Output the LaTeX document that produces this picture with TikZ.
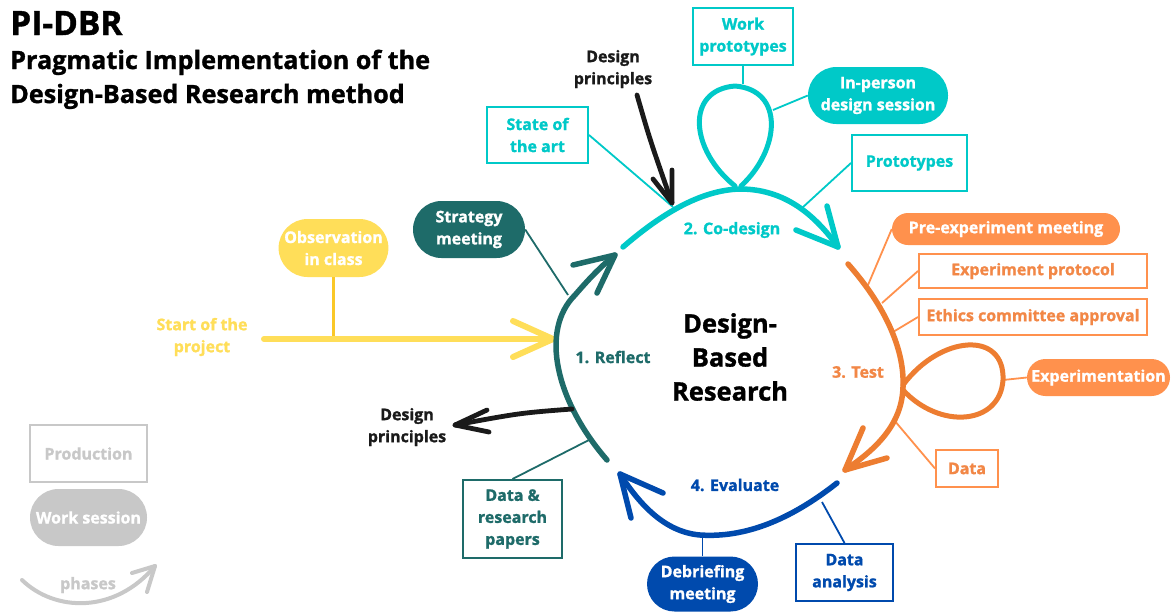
\documentclass[tikz,border=0pt]{standalone}
\usepackage{fontspec}
\setmainfont{Open Sans}[BoldFeatures={FakeBold=1.2}]
\usetikzlibrary{shapes.misc}
\definecolor{cteal}{RGB}{0,201,200}
\definecolor{cdark}{RGB}{30,107,105}
\definecolor{corange}{RGB}{237,125,49}
\definecolor{corlight}{RGB}{255,145,77}
\definecolor{cortext}{RGB}{242,135,70}
\definecolor{cblue}{RGB}{0,74,173}
\definecolor{cyellow}{RGB}{255,222,89}
\definecolor{cyellowline}{RGB}{250,200,40}
\definecolor{cgray}{RGB}{200,200,200}
\definecolor{cblack}{RGB}{26,26,26}
\tikzset{
  lab/.style={align=center, inner sep=0pt, font=\fontsize{16}{22}\selectfont\bfseries},
  tbox/.style={lab, draw, line width=2pt, fill=white},
  pill/.style={lab, rounded rectangle, text=white},
  conn/.style={line width=1.8pt},
  arcline/.style={line width=5.5pt, line cap=round, line join=round},
}
\begin{document}
\begin{tikzpicture}[x=1pt,y=-1pt]
\useasboundingbox[fill=white] (0,0) rectangle (1172,611);

% titles
\node[anchor=base west, inner sep=0pt, font=\fontsize{33.5}{40}\selectfont\bfseries] (title) at (10,35) {PI-DBR};
\node[anchor=base west, inner sep=0pt, font=\fontsize{25.2}{34}\selectfont\bfseries] (sub1) at (10,69) {Pragmatic Implementation of the};
\node[anchor=base west, inner sep=0pt, font=\fontsize{25.2}{34}\selectfont\bfseries] (sub2) at (10,103) {Design-Based Research method};

% center
\node[lab, font=\fontsize{25.5}{34}\selectfont\bfseries, text=black] (dbr) at (730,357) {Design-\\Based\\Research};

% attachment coordinates
\coordinate (wpA) at (743,84);
\coordinate (ipA) at (773,110);
\coordinate (sotaA) at (673,207);
\coordinate (protoA) at (802,208);
\coordinate (stratA) at (568,295);
\coordinate (obsA) at (333.5,339);
\coordinate (preA) at (868,285);
\coordinate (protA) at (882,303);
\coordinate (ethA) at (893,332);
\coordinate (expA) at (1003,380);
\coordinate (dataA) at (894,420);
\coordinate (debA) at (702.5,535);
\coordinate (anaA) at (822,502);
\coordinate (drpA) at (589,440);

% nodes: teal
\node[tbox, draw=cteal, text=cteal, minimum width=100pt, minimum height=57pt] (wp) at (743,36.5) {Work\\prototypes};
\node[tbox, draw=cteal, text=cteal, minimum width=101pt, minimum height=56pt] (sota) at (537.5,135) {State of\\the art};
\node[tbox, draw=cteal, text=cteal, minimum width=115pt, minimum height=56pt] (proto) at (909.5,163) {Prototypes};
\node[pill, fill=cteal, minimum width=140pt, minimum height=57pt] (ip) at (878,95.5) {In-person\\design session};
% dark teal
\node[pill, fill=cdark, minimum width=112pt, minimum height=57pt] (strat) at (469,229.5) {Strategy\\meeting};
\node[tbox, draw=cdark, text=cdark, minimum width=99pt, minimum height=78pt] (drp) at (512.5,519) {Data \&\\research\\papers};
% yellow
\node[pill, fill=cyellow, minimum width=107pt, minimum height=58pt] (obs) at (333.5,248) {Observation\\in class};
% orange
\node[pill, fill=corlight, minimum width=228pt, minimum height=32pt] (pre) at (1006,229) {Pre-experiment meeting};
\node[tbox, draw=corlight, text=cortext, minimum width=228pt, minimum height=34pt] (prot) at (1033,271) {Experiment protocol};
\node[tbox, draw=corlight, text=cortext, minimum width=228pt, minimum height=36pt] (eth) at (1033,317) {Ethics committee approval};
\node[pill, fill=corlight, minimum width=143pt, minimum height=37pt] (exp) at (1098.5,377.5) {Experimentation};
\node[tbox, draw=corlight, text=cortext, minimum width=62pt, minimum height=37pt] (data) at (967,468.5) {Data};
% blue
\node[pill, fill=cblue, minimum width=111pt, minimum height=55pt] (deb) at (702.5,584) {Debriefing\\meeting};
\node[tbox, draw=cblue, text=cblue, minimum width=97pt, minimum height=57pt] (ana) at (844.5,572.5) {Data\\analysis};
% legend
\node[tbox, draw=cgray, text=cgray, minimum width=117pt, minimum height=57pt] (prod) at (88.5,453.5) {Production};
\node[pill, fill=cgray, minimum width=117pt, minimum height=57pt] (ws) at (88.5,517.5) {Work session};

% labels
\node[lab, text=cteal] (l2) at (732,230) {2. Co-design};
\node[lab, text=cdark] (l1) at (613,357) {1. Reflect};
\node[lab, text=cortext] (l3) at (858,372) {3. Test};
\node[lab, text=cblue] (l4) at (735,485) {4. Evaluate};
\node[lab, text=cyellow] (start) at (202,337) {Start of the\\project};
\node[lab, text=cblack] (dp1) at (613,69) {Design\\principles};
\node[lab, text=cblack] (dp2) at (407,427) {Design\\principles};
\node[lab, text=cgray] (ph) at (88,585) {phases};

% connectors
\draw[conn, cteal] (wp.south) -- (wpA);
\draw[conn, cteal] (ip.west) -- (ipA);
\draw[conn, cteal] (sota.east) -- (sotaA);
\draw[conn, cteal] (proto.west) -- (protoA);
\draw[conn, cdark] (strat.east) -- (stratA);
\draw[conn, cdark] (drp.north) -- (drpA);
\draw[conn, cyellowline, line width=2.2pt] (obs.south) -- (obsA);
\draw[conn, corlight] (pre.west) -- (preA);
\draw[conn, corlight] (prot.west) -- (protA);
\draw[conn, corlight] (eth.west) -- (ethA);
\draw[conn, corlight] (exp.west) -- (expA);
\draw[conn, corlight] (data.west) -- (dataA);
\draw[conn, cblue] (deb.north) -- (debA);
\draw[conn, cblue] (ana.north) -- (anaA);

% start arrow
\coordinate (s0) at (264,339);
\coordinate (s1) at (553,339);
\draw[arcline, cyellow, line width=6pt] (s0) -- (s1);
\draw[arcline, cyellow, line width=6pt] (513,321) -- (s1) -- (513,357);

% 1 reflect
\coordinate (r0) at (607,460);
\coordinate (r1) at (615,255);
\draw[arcline, cdark] (r0) .. controls (555,400) and (540,330) .. (575,295) .. controls (588,280) and (600,267) .. (r1);
\draw[arcline, cdark] (573,265) -- (r1) -- (597,293);

% 2 co-design
\coordinate (c0) at (623,247);
\coordinate (c1) at (838,247);
\draw[arcline, cteal] (c0) .. controls (660,215) and (700,190) .. (740,189) .. controls (785,189) and (815,215) .. (c1);
\draw[arcline, cteal] (827,206) -- (c1) -- (796,230);
\draw[arcline, cteal, line width=5pt] (735,186) .. controls (690,150) and (685,90) .. (735,86) .. controls (785,90) and (780,150) .. (741,186);

% 3 test
\coordinate (t0) at (848,264);
\coordinate (t1) at (845,470);
\draw[arcline, corange] (t0) .. controls (880,300) and (905,345) .. (903,387) .. controls (902,425) and (875,450) .. (t1);
\draw[arcline, corange] (863,428) -- (t1) -- (887,458);
\draw[arcline, corange, line width=5pt] (903,385) .. controls (940,335) and (1005,330) .. (1003,380) .. controls (1000,425) and (940,430) .. (903,390);

% 4 evaluate
\coordinate (e0) at (837,483);
\coordinate (e1) at (620,474);
\draw[arcline, cblue] (e0) .. controls (790,520) and (745,538) .. (700,535) .. controls (665,532) and (640,505) .. (e1);
\draw[arcline, cblue] (663,493) -- (e1) -- (631,518);

% black arrows
\coordinate (b0) at (637,95);
\coordinate (b1) at (672,203);
\draw[arcline, cblack, line width=4.8pt] (b0) .. controls (650,140) .. (b1);
\draw[arcline, cblack, line width=4.8pt] (653,179) -- (b1) -- (672,170);
\coordinate (d0) at (572,409);
\coordinate (d1) at (455,425);
\draw[arcline, cblack, line width=4.8pt] (d0) .. controls (520,413) .. (d1);
\draw[arcline, cblack, line width=4.8pt] (487,410) -- (d1) -- (489,432);

% legend arrow
\coordinate (p0) at (22,580);
\coordinate (p1) at (155,566);
\draw[arcline, cgray, line width=4pt] (p0) .. controls (55,612) and (115,614) .. (p1);
\draw[arcline, cgray, line width=4pt] (132,573) -- (p1) -- (147,592);
\end{tikzpicture}
\end{document}
